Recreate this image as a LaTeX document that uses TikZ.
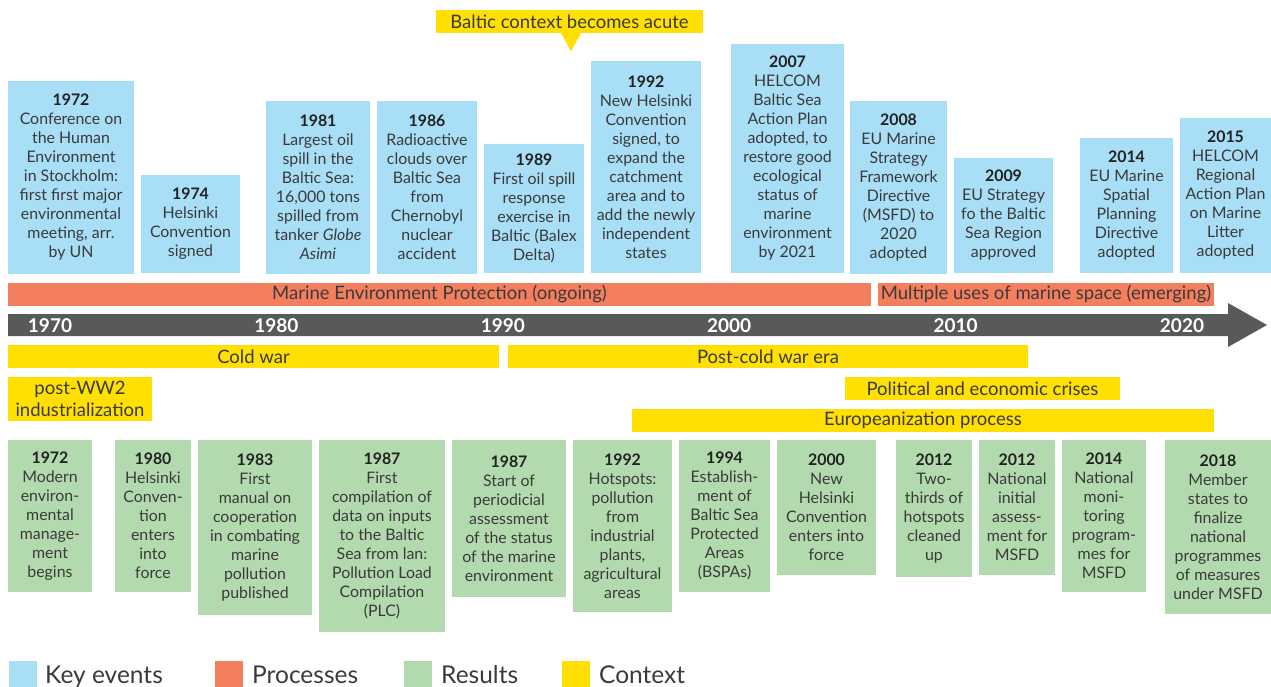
\documentclass[tikz,border=0pt]{standalone}
\usepackage{fontspec}
\setmainfont{Lato}
\usepackage{tikz}

\definecolor{keyblue}{HTML}{A9DEF7}
\definecolor{procorange}{HTML}{F47F5F}
\definecolor{resgreen}{HTML}{B3DAAE}
\definecolor{ctxyellow}{HTML}{FFE000}
\definecolor{bargray}{HTML}{58595B}
\definecolor{txtgray}{HTML}{3A3A3A}
\definecolor{yearblack}{HTML}{222222}

\newcommand{\evyear}[1]{{\bfseries\color{yearblack}#1}}

\begin{document}
\begin{tikzpicture}[x=1pt, y=-1pt,
        box/.style={inner sep=0pt, align=center, text=txtgray, font=\fontsize{15.9}{19}\selectfont},
        key node/.style={box, fill=keyblue},
        result node/.style={box, fill=resgreen},
        bar/.style={inner sep=0pt, minimum height=23pt, align=center, text=txtgray, font=\fontsize{18.5}{20}\selectfont},
        process bar/.style={bar, fill=procorange},
        context bar/.style={bar, fill=ctxyellow},
        decade/.style={text=white, font=\fontsize{19}{20}\selectfont\bfseries},
        legend box/.style={inner sep=0pt, minimum width=28pt, minimum height=26pt},
        legend text/.style={anchor=base west, inner sep=0pt, text=txtgray, font=\fontsize{24.5}{26}\selectfont}]

    \useasboundingbox (0,0) rectangle (1271,687);

    % Key events
    \node[key node, minimum width=126pt, minimum height=193pt] (k1972) at (71,177.5)
        {\evyear{1972}\\Conference on\\the Human\\Environment\\in Stockholm:\\first first major\\environmental\\meeting, arr.\\by UN};
    \node[key node, minimum width=99pt, minimum height=98pt] (k1974) at (190.5,224)
        {\evyear{1974}\\Helsinki\\Convention\\signed};
    \node[key node, minimum width=104pt, minimum height=173pt] (k1981) at (318,187.5)
        {\evyear{1981}\\Largest oil\\spill in the\\Baltic Sea:\\16,000 tons\\spilled from\\tanker \textit{Globe}\\\textit{Asimi}};
    \node[key node, minimum width=100pt, minimum height=173pt] (k1986) at (427,187.5)
        {\evyear{1986}\\Radioactive\\clouds over\\Baltic Sea\\from\\Chernobyl\\nuclear\\accident};
    \node[key node, minimum width=100pt, minimum height=129pt] (k1989) at (534,208.5)
        {\evyear{1989}\\First oil spill\\response\\exercise in\\Baltic (Balex\\Delta)};
    \node[key node, minimum width=110pt, minimum height=212pt] (k1992) at (646,167)
        {\evyear{1992}\\New Helsinki\\Convention\\signed, to\\expand the\\catchment\\area and to\\add the newly\\independent\\states};
    \node[key node, minimum width=113pt, minimum height=229pt] (k2007) at (787.5,158.5)
        {\evyear{2007}\\HELCOM\\Baltic Sea\\Action Plan\\adopted, to\\restore good\\ecological\\status of\\marine\\environment\\by 2021};
    \node[key node, minimum width=97pt, minimum height=173pt] (k2008) at (898.5,187.5)
        {\evyear{2008}\\EU Marine\\Strategy\\Framework\\Directive\\(MSFD) to\\2020\\adopted};
    \node[key node, minimum width=99pt, minimum height=115pt] (k2009) at (1003.5,215.5)
        {\evyear{2009}\\EU Strategy\\fo the Baltic\\Sea Region\\approved};
    \node[key node, minimum width=93pt, minimum height=135pt] (k2014) at (1126.5,205.5)
        {\evyear{2014}\\EU Marine\\Spatial\\Planning\\Directive\\adopted};
    \node[key node, minimum width=91pt, minimum height=155pt] (k2015) at (1225.5,195.5)
        {\evyear{2015}\\HELCOM\\Regional\\Action Plan\\on Marine\\Litter\\adopted};

    % Context callout
    \node[context bar, minimum width=267pt] (acute) at (569.5,21.5) {Baltic context becomes acute};
    \fill[ctxyellow] ([xshift=-8.5pt]acute.south) -- ([xshift=11.5pt]acute.south)
        -- ([xshift=1.5pt,yshift=-18pt]acute.south) -- cycle;

    % Processes
    \node[process bar, minimum width=863pt] (mep) at (439.5,294.5) {Marine Environment Protection (ongoing)};
    \node[process bar, minimum width=336pt] (mus) at (1046,294.5) {Multiple uses of marine space (emerging)};

    % Time axis
    \fill[bargray] (8,314) -- (1228,314) -- (1228,303) -- (1267,325) -- (1228,347)
        -- (1228,336) -- (8,336) -- cycle;
    \node[decade] (d1970) at (50,325.5) {1970};
    \node[decade] (d1980) at (276.4,325.5) {1980};
    \node[decade] (d1990) at (502.8,325.5) {1990};
    \node[decade] (d2000) at (729.2,325.5) {2000};
    \node[decade] (d2010) at (955.6,325.5) {2010};
    \node[decade] (d2020) at (1182,325.5) {2020};

    % Context
    \node[context bar, minimum width=491pt] (cold) at (253.5,356.5) {Cold war};
    \node[context bar, minimum width=520pt] (postcold) at (768,356.5) {Post-cold war era};
    \node[context bar, minimum width=144pt, minimum height=44pt, font=\fontsize{18.5}{21.5}\selectfont] (ww2) at (80,399)
        {post-WW2\\industrialization};
    \node[context bar, minimum width=275pt] (crises) at (982.5,388.5) {Political and economic crises};
    \node[context bar, minimum width=582pt] (europe) at (923,420.5) {Europeanization process};

    % Results
    \node[result node, minimum width=84pt, minimum height=152pt] (r1972) at (50,516)
        {\evyear{1972}\\Modern\\environ-\\mental\\manage-\\ment\\begins};
    \node[result node, minimum width=76pt, minimum height=152pt] (r1980) at (153,516)
        {\evyear{1980}\\Helsinki\\Conven-\\tion\\enters\\into\\force};
    \node[result node, minimum width=114pt, minimum height=175pt] (r1983) at (255,527.5)
        {\evyear{1983}\\First\\manual on\\cooperation\\in combating\\marine\\pollution\\published};
    \node[result node, minimum width=126pt, minimum height=192pt] (r1987a) at (382,536)
        {\evyear{1987}\\First\\compilation of\\data on inputs\\to the Baltic\\Sea from lan:\\Pollution Load\\Compilation\\(PLC)};
    \node[result node, minimum width=114pt, minimum height=157pt] (r1987b) at (509,518.5)
        {\evyear{1987}\\Start of\\periodicial\\assessment\\of the status\\of the marine\\environment};
    \node[result node, minimum width=99pt, minimum height=172pt] (r1992) at (622.5,526)
        {\evyear{1992}\\Hotspots:\\pollution\\from\\industrial\\plants,\\agricultural\\areas};
    \node[result node, minimum width=91pt, minimum height=152pt] (r1994) at (724.5,516)
        {\evyear{1994}\\Establish-\\ment of\\Baltic Sea\\Protected\\Areas\\(BSPAs)};
    \node[result node, minimum width=99pt, minimum height=135pt] (r2000) at (826.5,507.5)
        {\evyear{2000}\\New\\Helsinki\\Convention\\enters into\\force};
    \node[result node, minimum width=76pt, minimum height=137pt] (r2012a) at (934,508.5)
        {\evyear{2012}\\Two-\\thirds of\\hotspots\\cleaned\\up};
    \node[result node, minimum width=76pt, minimum height=135pt] (r2012b) at (1017,507.5)
        {\evyear{2012}\\National\\initial\\assess-\\ment for\\MSFD};
    \node[result node, minimum width=84pt, minimum height=152pt] (r2014) at (1104,516)
        {\evyear{2014}\\National\\moni-\\toring\\program-\\mes for\\MSFD};
    \node[result node, minimum width=106pt, minimum height=174pt] (r2018) at (1218,527)
        {\evyear{2018}\\Member\\states to\\finalize\\national\\programmes\\of measures\\under MSFD};

    % Legend
    \node[legend box, fill=keyblue] (lkey) at (23,674) {};
    \node[legend text] (tkey) at (45,683) {Key events};
    \node[legend box, fill=procorange] (lproc) at (229,674) {};
    \node[legend text] (tproc) at (252,683) {Processes};
    \node[legend box, fill=resgreen] (lres) at (418,674) {};
    \node[legend text] (tres) at (441,683) {Results};
    \node[legend box, fill=ctxyellow] (lctx) at (576,674) {};
    \node[legend text] (tctx) at (599,683) {Context};
\end{tikzpicture}
\end{document}
